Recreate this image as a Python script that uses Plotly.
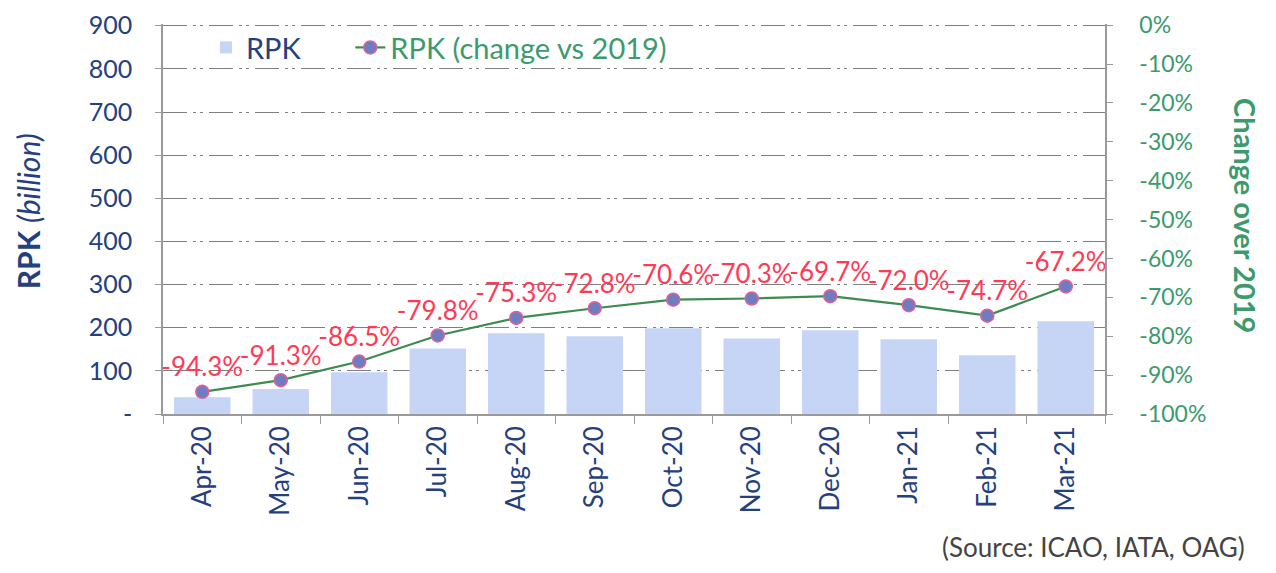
import plotly.graph_objects as go

months = ["Apr-20", "May-20", "Jun-20", "Jul-20", "Aug-20", "Sep-20",
          "Oct-20", "Nov-20", "Dec-20", "Jan-21", "Feb-21", "Mar-21"]
rpk = [39, 58, 97, 152, 187, 180, 199, 175, 194, 173, 136, 215]
change_pct = [-94.3, -91.3, -86.5, -79.8, -75.3, -72.8, -70.6, -70.3, -69.7, -72.0, -74.7, -67.2]

left_ticks = [0, 100, 200, 300, 400, 500, 600, 700, 800, 900]
left_ticktext = ["-"] + [str(v) for v in left_ticks[1:]]
right_ticks = [0, -10, -20, -30, -40, -50, -60, -70, -80, -90, -100]

FONT = "Lato, 'Open Sans', sans-serif"
NAVY = "#25407e"
GREEN = "#3c9a6c"
RED = "#ff3a55"

W, H = 1260, 557

fig = go.Figure()
fig.add_trace(go.Bar(
    x=months, y=rpk, name=f"<span style='color:{NAVY}'>RPK</span>" + "\u00a0" * 6,
    marker=dict(color="#c6d4f6", line=dict(width=0)), width=0.72,
))
fig.add_trace(go.Scatter(
    x=months, y=change_pct, yaxis="y2", mode="lines+markers+text",
    name=f"<span style='color:{GREEN}'>RPK (change vs 2019)</span>",
    line=dict(color="#3d8b4e", width=2.2),
    marker=dict(size=13, color="#707cc0", line=dict(color="#e0609a", width=1.5)),
    text=[f"{v:.1f}%" for v in change_pct], textposition="top center",
    textfont=dict(color=RED, size=26, family=FONT),
))

grid_dash = "24px,6px,3px,4px,3px,6px"
fig.update_layout(
    width=W, height=H,
    margin=dict(l=155, r=163, t=16, b=151, autoexpand=False),
    paper_bgcolor="white", plot_bgcolor="white",
    font=dict(family=FONT, size=20, color=NAVY),
    showlegend=True,
    legend=dict(orientation="h", x=0.0456, y=1.005, xanchor="left", yanchor="top",
                bgcolor="rgba(255,255,255,0)", font=dict(size=29, family=FONT),
                traceorder="normal"),
    xaxis=dict(
        type="category", range=[-0.5, len(months) - 0.5],
        tickangle=-90, tickfont=dict(size=26, color=NAVY),
        showline=True, linecolor="#9a9a9a", linewidth=1.5, automargin=False,
        ticks="outside", tickson="boundaries", ticklen=8, tickcolor="#9a9a9a",
        showgrid=False,
    ),
    yaxis=dict(
        range=[0, 904], tickvals=left_ticks, ticktext=left_ticktext,
        tickfont=dict(size=25, color=NAVY, family=FONT), automargin=False,
        ticklabeloverflow="allow",
        showline=True, linecolor="#9a9a9a", linewidth=1.5,
        ticks="outside", ticklen=6, tickcolor="#9a9a9a", ticklabelstandoff=18,
        showgrid=True, gridcolor="#7f7f7f", gridwidth=1.3, griddash=grid_dash,
        zeroline=False,
    ),
    yaxis2=dict(
        range=[-100, 0.3], overlaying="y", side="right", automargin=False,
        ticklabeloverflow="allow",
        tickvals=right_ticks, ticktext=[f"{v}%" for v in right_ticks],
        tickfont=dict(size=23, color=GREEN, family=FONT),
        showline=True, linecolor="#9a9a9a", linewidth=1.5,
        ticks="outside", ticklen=6, tickcolor="#9a9a9a", ticklabelstandoff=22,
        showgrid=False, zeroline=False,
    ),
    annotations=[
        dict(text="<b>RPK</b> <i>(billion)</i>", xref="paper", yref="paper",
             x=0, xshift=-135, xanchor="center", y=0.52, yanchor="middle",
             textangle=-90, showarrow=False,
             font=dict(size=30, color=NAVY, family=FONT)),
        dict(text="<b>Change over 2019</b>", xref="paper", yref="paper",
             x=1.0, xshift=141, xanchor="center", y=0.51, yanchor="middle",
             textangle=90, showarrow=False,
             font=dict(size=29, color=GREEN, family=FONT)),
        dict(text="(Source: ICAO, IATA, OAG)", xref="paper", yref="paper",
             x=0, xshift=777, xanchor="left", y=0, yshift=-133, yanchor="middle",
             showarrow=False, font=dict(size=26, color="#444444", family=FONT)),
    ],
)

fig.write_html("out.html")
